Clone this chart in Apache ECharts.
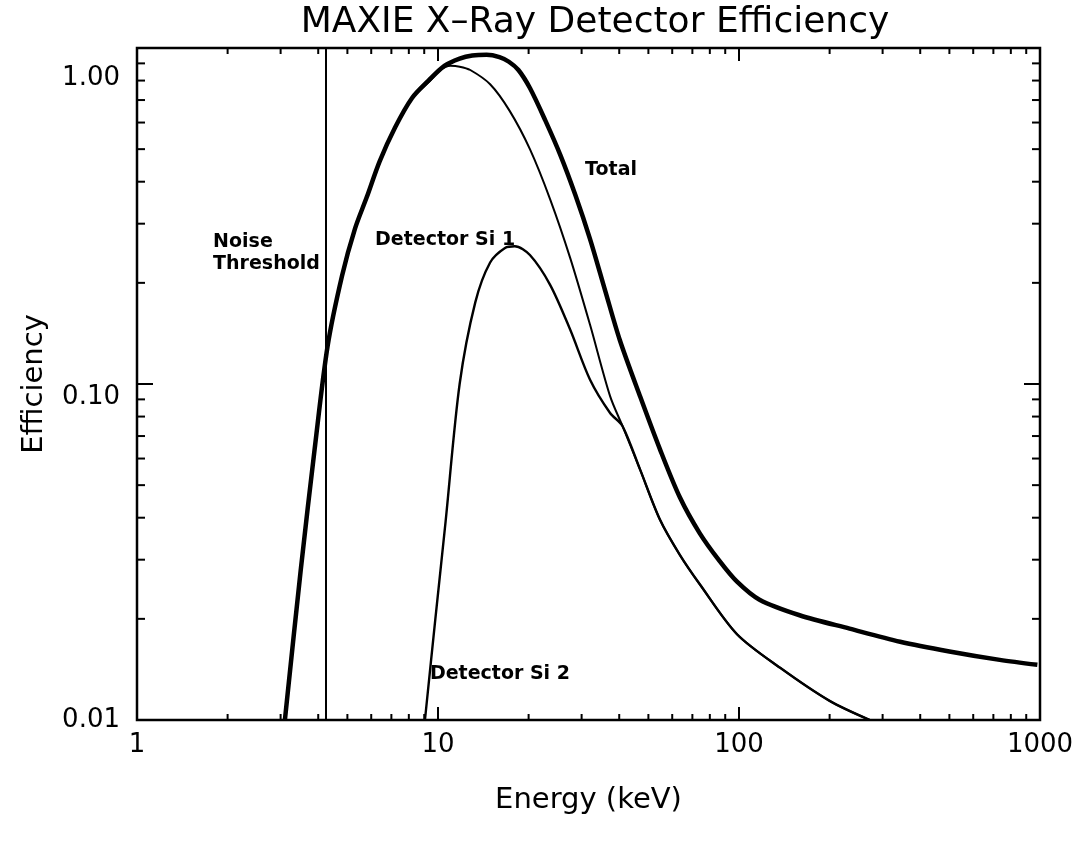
<!DOCTYPE html>
<html>
<head>
<meta charset="utf-8">
<script src="https://cdn.jsdelivr.net/npm/echarts@6/dist/echarts.min.js"></script>
<style>
html, body { margin: 0; padding: 0; background: #fff; }
#chart { width: 1090px; height: 853px; }
</style>
</head>
<body>
<div id="chart"></div>
<script>
// energy (keV), efficiency pairs
var totalData = [
    [3.1, 0.01], [3.5, 0.028], [3.9, 0.065], [4.3, 0.13], [4.8, 0.21], [5.3, 0.29], [5.8, 0.36],
    [6.4, 0.46], [7.2, 0.58], [8.2, 0.71], [9.3, 0.8], [10.5, 0.885], [11.8, 0.93], [13, 0.95],
    [14.5, 0.955], [16, 0.94], [17.2, 0.91], [18.5, 0.86], [20.2, 0.76], [22.7, 0.61], [25.5, 0.48],
    [28.6, 0.365], [32, 0.27], [35.9, 0.19], [40.2, 0.135], [46.9, 0.092], [54.6, 0.064],
    [63.6, 0.046], [74, 0.036], [86, 0.0298], [98.5, 0.0258], [117, 0.0228], [159, 0.0205],
    [233, 0.0187], [343, 0.0171], [500, 0.016], [735, 0.0151], [980, 0.0146]
];
var si1Data = [
    [3.1, 0.01], [3.5, 0.028], [3.9, 0.065], [4.3, 0.13], [4.8, 0.21], [5.3, 0.29], [5.8, 0.36],
    [6.4, 0.46], [7.2, 0.58], [8.2, 0.71], [9.3, 0.79], [10.2, 0.86], [11, 0.885], [11.8, 0.88],
    [12.8, 0.86], [14.9, 0.78], [17.3, 0.65], [20.2, 0.5], [23.6, 0.354], [27.5, 0.237],
    [32, 0.15], [37.3, 0.092], [41, 0.075], [46.9, 0.0557], [54.6, 0.0395], [63.6, 0.031],
    [74.2, 0.0253], [98.5, 0.018], [137, 0.0143], [200, 0.0114], [272, 0.01]
];
var si2Data = [
    [9.05, 0.01], [9.8, 0.02], [10.6, 0.039], [11.8, 0.1], [13.3, 0.175], [14.9, 0.23],
    [16.7, 0.254], [18, 0.257], [20.2, 0.242], [23.6, 0.197], [27.5, 0.145], [32, 0.103],
    [37.3, 0.082], [41, 0.075], [46.9, 0.0557], [54.6, 0.0395], [63.6, 0.031], [74.2, 0.0253],
    [98.5, 0.018], [137, 0.0143], [200, 0.0114], [272, 0.01]
];
var noiseThreshold = 4.25;

var xMinorTicks = [2, 3, 4, 5, 6, 7, 8, 9, 20, 30, 40, 50, 60, 70, 80, 90, 200, 300, 400, 500, 600, 700, 800, 900];
var xMajorTicks = [1, 10, 100, 1000];
var yMinorTicks = [0.02, 0.03, 0.04, 0.05, 0.06, 0.07, 0.08, 0.09, 0.2, 0.3, 0.4, 0.5, 0.6, 0.7, 0.8, 0.9];
var yMajorTicks = [0.01, 0.1, 1];

var notes = [
    [30.8, 0.433, 'Total'],
    [6.18, 0.268, 'Detector Si 1'],
    [1.79, 0.245, 'Noise\nThreshold'],
    [9.4, 0.0137, 'Detector Si 2']
];

var fontName = 'DejaVu Sans';

// tick marks inside the box, all four sides
var tickData = [];
xMinorTicks.forEach(function (v) { tickData.push([v, 0.01, 0, 6]); });
xMajorTicks.forEach(function (v) { tickData.push([v, 0.01, 0, 13]); });
yMinorTicks.forEach(function (v) { tickData.push([1, v, 1, 8]); });
yMajorTicks.forEach(function (v) { tickData.push([1, v, 1, 16]); });

function renderTick(params, api) {
    var cs = params.coordSys;
    var p = api.coord([api.value(0), api.value(1)]);
    var len = api.value(3);
    var st = { stroke: '#000', lineWidth: 2 };
    if (api.value(2) === 0) {
        return {
            type: 'group', children: [
                { type: 'line', shape: { x1: p[0], y1: cs.y + cs.height, x2: p[0], y2: cs.y + cs.height - len }, style: st },
                { type: 'line', shape: { x1: p[0], y1: cs.y, x2: p[0], y2: cs.y + len }, style: st }
            ]
        };
    }
    return {
        type: 'group', children: [
            { type: 'line', shape: { x1: cs.x, y1: p[1], x2: cs.x + len, y2: p[1] }, style: st },
            { type: 'line', shape: { x1: cs.x + cs.width, y1: p[1], x2: cs.x + cs.width - len, y2: p[1] }, style: st }
        ]
    };
}

var myChart = echarts.init(document.getElementById('chart'), null, { renderer: 'canvas' });

var labelStyle = { fontFamily: fontName, fontSize: 26, color: '#000' };

var option = {
    backgroundColor: '#fff',
    animation: false,
    title: {
        text: 'MAXIE X–Ray Detector Efficiency',
        left: 590,
        textAlign: 'center',
        top: 0,
        textStyle: { fontFamily: fontName, fontSize: 36, fontWeight: 'normal', color: '#000' }
    },
    grid: {
        left: 137,
        right: 50,
        top: 48,
        bottom: 133,
        show: true,
        borderColor: '#000',
        borderWidth: 2.5,
        backgroundColor: 'transparent'
    },
    xAxis: {
        type: 'log',
        logBase: 10,
        min: 1,
        max: 1000,
        name: 'Energy (keV)',
        nameLocation: 'middle',
        nameGap: 66,
        nameTextStyle: { fontFamily: fontName, fontSize: 29, color: '#000' },
        axisLine: { show: false },
        axisTick: { show: false },
        splitLine: { show: false },
        axisLabel: {
            fontFamily: fontName, fontSize: 26, color: '#000', margin: 12,
            formatter: function (v) { return String(Math.round(v)); }
        }
    },
    yAxis: {
        type: 'log',
        logBase: 10,
        min: 0.01,
        max: 1,
        name: 'Efficiency',
        nameLocation: 'middle',
        nameGap: 88,
        nameTextStyle: { fontFamily: fontName, fontSize: 29, color: '#000' },
        axisLine: { show: false },
        axisTick: { show: false },
        splitLine: { show: false },
        axisLabel: {
            margin: 17,
            formatter: function (v) {
                var s = Number(v).toFixed(2);
                if (v > 0.5) return '{top|' + s + '}';
                if (v > 0.05) return '{mid|' + s + '}';
                return '{low|' + s + '}';
            },
            rich: {
                top: Object.assign({ padding: [60, 0, 0, 0] }, labelStyle),
                mid: Object.assign({ padding: [26, 0, 0, 0] }, labelStyle),
                low: Object.assign({}, labelStyle)
            }
        }
    },
    series: [{
        name: 'Total',
        type: 'line',
        data: totalData,
        showSymbol: false,
        smooth: 0.3,
        lineStyle: { color: '#000', width: 4.5 },
        markLine: {
            silent: true,
            symbol: 'none',
            label: { show: false },
            lineStyle: { color: '#000', width: 2, type: 'solid' },
            data: [{ xAxis: noiseThreshold }]
        }
    }, {
        name: 'Detector Si 1',
        type: 'line',
        data: si1Data,
        showSymbol: false,
        smooth: 0.3,
        lineStyle: { color: '#000', width: 2 }
    }, {
        name: 'Detector Si 2',
        type: 'line',
        data: si2Data,
        showSymbol: false,
        smooth: 0.3,
        lineStyle: { color: '#000', width: 2.4 }
    }, {
        name: 'notes',
        type: 'scatter',
        data: notes,
        symbolSize: 0,
        silent: true,
        itemStyle: { opacity: 1 },
        label: {
            show: true,
            position: 'right',
            distance: 0,
            formatter: function (p) { return p.value[2]; },
            fontFamily: fontName,
            fontSize: 19,
            fontWeight: 'bold',
            lineHeight: 22,
            color: '#000'
        }
    }, {
        name: 'ticks',
        type: 'custom',
        data: tickData,
        renderItem: renderTick,
        silent: true,
        clip: false,
        z: 10
    }]
};
myChart.setOption(option);
</script>
</body>
</html>
